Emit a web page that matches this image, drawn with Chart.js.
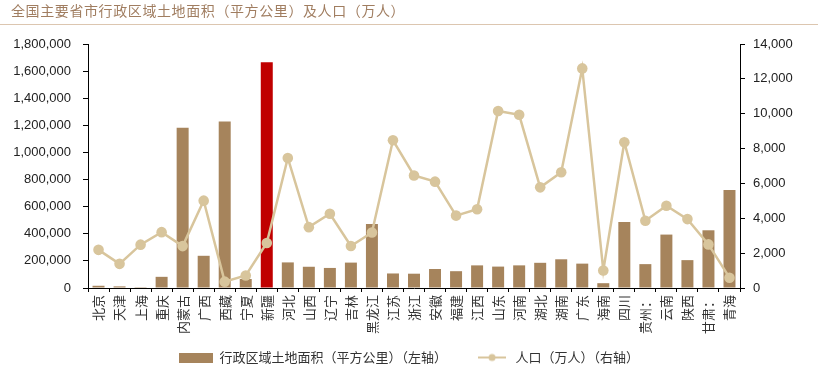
<!DOCTYPE html>
<html>
<head>
<meta charset="utf-8">
<script src="https://cdn.jsdelivr.net/npm/chart.js@4/dist/chart.umd.min.js"></script>
<style>
  html, body { margin: 0; padding: 0; background: #fff; }
  #wrap { width: 818px; height: 378px; }
</style>
</head>
<body>
<div id="wrap"><canvas id="areaPopChart" width="818" height="378"></canvas></div>
<script>
var titleText = '全国主要省市行政区域土地面积（平方公里）及人口（万人）';
var provinces = ['北京', '天津', '上海', '重庆', '内蒙古', '广西', '西藏', '宁夏', '新疆', '河北',
    '山西', '辽宁', '吉林', '黑龙江', '江苏', '浙江', '安徽', '福建', '江西', '山东',
    '河南', '湖北', '湖南', '广东', '海南', '四川', '贵州：', '云南', '陕西', '甘肃：', '青海'];
var landArea = [16410, 11966, 6340, 82400, 1183000, 237600, 1228400, 66400, 1664900, 188800,
    156700, 148000, 187400, 473000, 107200, 105500, 140100, 124000, 166900, 157900,
    167000, 185900, 211800, 179800, 35400, 486000, 176100, 394100, 205600, 425800, 722300];
var population = [2189, 1387, 2487, 3205, 2405, 5013, 365, 720, 2585, 7461,
    3492, 4259, 2407, 3185, 8475, 6457, 6103, 4154, 4519, 10153,
    9937, 5775, 6644, 12601, 1008, 8367, 3856, 4721, 3953, 2502, 592];
var highlightName = '新疆';
var leftMax = 1800000, leftStep = 200000;
var rightMax = 14000, rightStep = 2000;

var barColor = '#A6845C';
var redColor = '#C00000';
var lineColor = '#D8C59C';
var barColors = provinces.map(function (p) { return p === highlightName ? redColor : barColor; });

// little pictures for the legend
function barIcon() {
    var c = document.createElement('canvas');
    c.width = 34; c.height = 10;
    var g = c.getContext('2d');
    g.fillStyle = barColor;
    g.fillRect(0, 0, 34, 10);
    return c;
}
function lineIcon() {
    var c = document.createElement('canvas');
    c.width = 28; c.height = 10;
    var g = c.getContext('2d');
    g.strokeStyle = lineColor;
    g.lineWidth = 2;
    g.beginPath(); g.moveTo(0, 5); g.lineTo(28, 5); g.stroke();
    g.fillStyle = lineColor;
    g.beginPath(); g.arc(14, 5, 3.5, 0, Math.PI * 2); g.fill();
    return c;
}
var legendIcons = [barIcon(), lineIcon()];

var headerPlugin = {
    id: 'header',
    afterDraw: function (chart) {
        var ctx = chart.ctx;
        ctx.save();
        ctx.fillStyle = '#A07D60';
        ctx.font = '14px "Noto Sans CJK SC"';
        ctx.letterSpacing = '0.6px';
        ctx.textBaseline = 'middle';
        ctx.fillText(titleText, 11, 11);
        ctx.letterSpacing = '0px';
        ctx.strokeStyle = '#DCC6B0';
        ctx.lineWidth = 1;
        ctx.beginPath();
        ctx.moveTo(0, 24.5);
        ctx.lineTo(818, 24.5);
        ctx.stroke();
        ctx.restore();
    }
};

var fmt = function (v) { return Number(v).toLocaleString('en-US'); };

var ctx = document.getElementById('areaPopChart').getContext('2d');
var chart = new Chart(ctx, {
    type: 'bar',
    data: {
        labels: provinces,
        datasets: [{
            label: '行政区域土地面积（平方公里）（左轴）',
            data: landArea,
            backgroundColor: barColors,
            yAxisID: 'y',
            order: 2,
            barPercentage: 0.57,
            categoryPercentage: 1
        }, {
            type: 'line',
            label: '人口（万人）（右轴）',
            data: population,
            borderColor: lineColor,
            backgroundColor: lineColor,
            borderWidth: 2.5,
            pointRadius: 5.3,
            pointBorderWidth: 0,
            pointBackgroundColor: lineColor,
            tension: 0,
            yAxisID: 'y1',
            order: 1
        }]
    },
    options: {
        responsive: false,
        animation: false,
        layout: { padding: { top: 44, left: 0, right: 0, bottom: 4 } },
        plugins: {
            title: { display: false },
            tooltip: { enabled: false },
            legend: {
                position: 'bottom',
                labels: {
                    usePointStyle: true,
                    pointStyleWidth: 34,
                    padding: 28,
                    color: '#333',
                    font: { size: 13, family: '"Noto Sans CJK SC"' },
                    sort: function (a, b) { return a.datasetIndex - b.datasetIndex; },
                    generateLabels: function (chart) {
                        var items = Chart.defaults.plugins.legend.labels.generateLabels(chart);
                        items.forEach(function (it) { it.pointStyle = legendIcons[it.datasetIndex]; });
                        return items;
                    }
                }
            }
        },
        scales: {
            x: {
                grid: { drawOnChartArea: false, color: '#000', tickLength: 4 },
                border: { color: '#000', width: 1 },
                ticks: {
                    autoSkip: false,
                    maxRotation: 90,
                    minRotation: 90,
                    padding: 3,
                    color: '#333',
                    font: { size: 13, family: '"Noto Sans CJK SC"' }
                },
                // labels hang into the legend's spare padding, so don't clip them
                afterFit: function (scale) {
                    scale.height = 35;
                    scale._computeLabelArea = function () { return null; };
                }
            },
            y: {
                position: 'left',
                min: 0,
                max: leftMax,
                grid: { drawOnChartArea: false, color: '#000', tickLength: 5 },
                border: { color: '#000', width: 1 },
                ticks: {
                    stepSize: leftStep,
                    padding: 12,
                    color: '#222',
                    font: { size: 13, family: '"Liberation Sans"' },
                    callback: fmt
                },
                afterFit: function (scale) { scale.width = 88; }
            },
            y1: {
                position: 'right',
                min: 0,
                max: rightMax,
                grid: { drawOnChartArea: false, color: '#000', tickLength: 5 },
                border: { color: '#000', width: 1 },
                ticks: {
                    stepSize: rightStep,
                    padding: 8,
                    color: '#222',
                    font: { size: 13, family: '"Liberation Sans"' },
                    callback: fmt
                },
                afterFit: function (scale) { scale.width = 78; }
            }
        }
    },
    plugins: [headerPlugin]
});
</script>
</body>
</html>
